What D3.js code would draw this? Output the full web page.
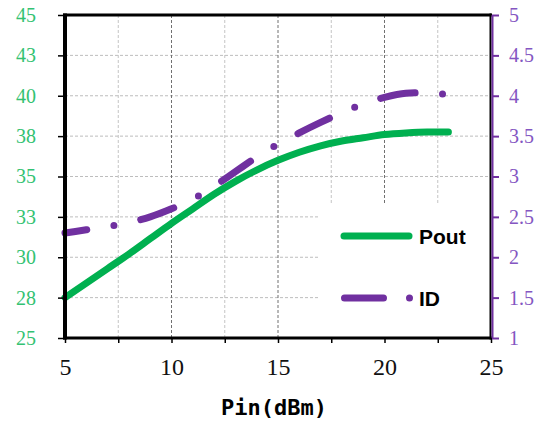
<!DOCTYPE html>
<html><head><meta charset="utf-8">
<script src="https://cdn.jsdelivr.net/npm/d3@7/dist/d3.min.js"></script>
<style>body{margin:0;background:#fff}svg{display:block}</style>
</head><body>
<svg id="c" width="548" height="422"></svg>
<script>
// ---- data ----
const pin  = [5,6,7,8,9,10,11,12,13,14,15,16,17,18,19,20,21,22,23];
const pout = [27.5,28.4,29.3,30.2,31.15,32.1,33.0,33.9,34.7,35.4,36.0,36.5,36.9,37.2,37.4,37.6,37.7,37.75,37.75];
const idA  = [2.30,2.34,2.38,2.43,2.50,2.60,2.72,2.88,3.06,3.24,3.40,3.54,3.67,3.79,3.90,3.98,4.03,4.04,4.01];
const xTickValues = [5,7.5,10,12.5,15,17.5,20,22.5,25];
const xTickLabels = ["5","","10","","15","","20","","25"];
const leftTickValues = [25,27.5,30,32.5,35,37.5,40,42.5,45];
const leftTickLabels = ["25","28","30","33","35","38","40","43","45"];
const rightTickValues = [1,1.5,2,2.5,3,3.5,4,4.5,5];
const rightTickLabels = ["1","1.5","2","2.5","3","3.5","4","4.5","5"];
const seriesNames = ["Pout","ID"];
const xTitle = "Pin(dBm)";

// ---- layout ----
const L = 65, R = 491, T = 15, B = 338;
const GREEN = "#00b050", PURPLE = "#7030a0";
const svg = d3.select("#c");
const x = d3.scaleLinear().domain([5,25]).range([L,R]);
const yL = d3.scaleLinear().domain([25,45]).range([B,T]);
const yR = d3.scaleLinear().domain([1,5]).range([B,T]);

// gridlines
const g = svg.append("g");
g.selectAll("line.h").data(leftTickValues.slice(1,-1)).join("line")
  .attr("x1",L).attr("x2",R).attr("y1",d=>yL(d)).attr("y2",d=>yL(d))
  .attr("stroke","#bdbdbd").attr("stroke-width",1).attr("stroke-dasharray","3,2");
g.selectAll("line.v").data(xTickValues.slice(1,-1)).join("line")
  .attr("y1",T).attr("y2",B).attr("x1",d=>x(d)).attr("x2",d=>x(d))
  .attr("stroke",d=>d%5===0?"#707070":"#c4c4c4").attr("stroke-width",1).attr("stroke-dasharray","3,2");

// legend background
svg.append("rect").attr("x",318).attr("y",204).attr("width",R-318).attr("height",B-204).attr("fill","#fff");

// lines
const lineP = d3.line().x((d,i)=>x(pin[i])).y(d=>yL(d)).curve(d3.curveMonotoneX);
const lineI = d3.line().x((d,i)=>x(pin[i])).y(d=>yR(d)).curve(d3.curveMonotoneX);
svg.append("path").attr("d",lineP(pout)).attr("fill","none").attr("stroke",GREEN)
  .attr("stroke-width",7).attr("stroke-linecap","round");
svg.append("path").attr("d",lineI(idA)).attr("fill","none").attr("stroke",PURPLE)
  .attr("stroke-width",7).attr("stroke-linecap","round")
  .attr("stroke-dasharray","35,27.5,0,27.5").attr("stroke-dashoffset",13);

// legend
svg.append("line").attr("x1",344).attr("x2",409).attr("y1",236).attr("y2",236)
  .attr("stroke",GREEN).attr("stroke-width",7).attr("stroke-linecap","round");
svg.append("line").attr("x1",344.5).attr("x2",412).attr("y1",298).attr("y2",298)
  .attr("stroke",PURPLE).attr("stroke-width",7).attr("stroke-linecap","round")
  .attr("stroke-dasharray","39,26,0,100");
svg.selectAll("text.leg").data(seriesNames).join("text")
  .attr("x",419).attr("y",(d,i)=>[244,306][i]).text(d=>d)
  .attr("font-family","Liberation Sans, Arial, sans-serif").attr("font-weight","bold")
  .attr("font-size",21).attr("fill","#000");

// axes
const serif = "Liberation Serif, Times New Roman, serif";
const ax = svg.append("g").attr("transform",`translate(0,${B})`)
  .call(d3.axisBottom(x).tickValues(xTickValues).tickFormat((d,i)=>xTickLabels[i]).tickSize(5).tickPadding(15));
ax.select(".domain").remove();
ax.selectAll(".tick line").attr("stroke","#000").attr("stroke-width",1.5);
ax.selectAll("text").attr("font-family",serif).attr("font-size",24).attr("fill","#111");

const al = svg.append("g").attr("transform",`translate(${L},0)`)
  .call(d3.axisLeft(yL).tickValues(leftTickValues).tickFormat((d,i)=>leftTickLabels[i]).tickSize(7).tickPadding(22));
al.select(".domain").remove();
al.selectAll(".tick line").attr("stroke","#000").attr("stroke-width",1.5);
al.selectAll("text").attr("font-family",serif).attr("font-size",20).attr("fill","#33c272");

const ar = svg.append("g").attr("transform",`translate(${R+1},0)`)
  .call(d3.axisRight(yR).tickValues(rightTickValues).tickFormat((d,i)=>rightTickLabels[i]).tickSize(7).tickPadding(10));
ar.select(".domain").remove();
ar.selectAll(".tick line").attr("stroke",PURPLE).attr("stroke-width",2);
ar.selectAll("text").attr("font-family",serif).attr("font-size",20).attr("fill","#8456c2");

// frame lines
svg.append("line").attr("x1",L-2).attr("x2",R+1).attr("y1",T).attr("y2",T).attr("stroke","#000").attr("stroke-width",3);
svg.append("line").attr("x1",L-2).attr("x2",R+1).attr("y1",B).attr("y2",B).attr("stroke","#000").attr("stroke-width",3);
svg.append("line").attr("x1",L).attr("x2",L).attr("y1",T-1.5).attr("y2",B+1.5).attr("stroke","#000").attr("stroke-width",4);
svg.append("line").attr("x1",R-0.5).attr("x2",R-0.5).attr("y1",T-1.5).attr("y2",B+1.5).attr("stroke","#000").attr("stroke-width",2);
svg.append("line").attr("x1",R+1.5).attr("x2",R+1.5).attr("y1",T).attr("y2",B).attr("stroke",PURPLE).attr("stroke-width",2);

// x title
svg.append("text").attr("x",274).attr("y",415).attr("text-anchor","middle")
  .attr("font-family","DejaVu Sans Mono, monospace").attr("font-weight","bold").attr("font-size",22)
  .attr("fill","#000").text(xTitle);
</script>
</body></html>
